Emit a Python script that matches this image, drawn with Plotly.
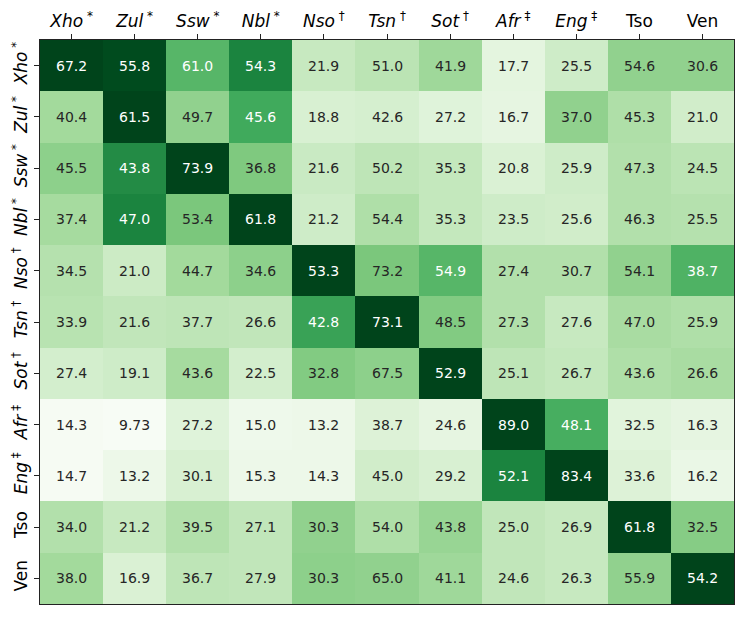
import plotly.graph_objects as go

langs = ["Xho", "Zul", "Ssw", "Nbl", "Nso", "Tsn", "Sot", "Afr", "Eng", "Tso", "Ven"]
marks = ["*", "*", "*", "*", "†", "†", "†", "‡", "‡", "", ""]

# cell values (row = Xho ... Ven, column = Xho ... Ven)
values = [
    [67.2, 55.8, 61.0, 54.3, 21.9, 51.0, 41.9, 17.7, 25.5, 54.6, 30.6],
    [40.4, 61.5, 49.7, 45.6, 18.8, 42.6, 27.2, 16.7, 37.0, 45.3, 21.0],
    [45.5, 43.8, 73.9, 36.8, 21.6, 50.2, 35.3, 20.8, 25.9, 47.3, 24.5],
    [37.4, 47.0, 53.4, 61.8, 21.2, 54.4, 35.3, 23.5, 25.6, 46.3, 25.5],
    [34.5, 21.0, 44.7, 34.6, 53.3, 73.2, 54.9, 27.4, 30.7, 54.1, 38.7],
    [33.9, 21.6, 37.7, 26.6, 42.8, 73.1, 48.5, 27.3, 27.6, 47.0, 25.9],
    [27.4, 19.1, 43.6, 22.5, 32.8, 67.5, 52.9, 25.1, 26.7, 43.6, 26.6],
    [14.3, 9.73, 27.2, 15.0, 13.2, 38.7, 24.6, 89.0, 48.1, 32.5, 16.3],
    [14.7, 13.2, 30.1, 15.3, 14.3, 45.0, 29.2, 52.1, 83.4, 33.6, 16.2],
    [34.0, 21.2, 39.5, 27.1, 30.3, 54.0, 43.8, 25.0, 26.9, 61.8, 32.5],
    [38.0, 16.9, 36.7, 27.9, 30.3, 65.0, 41.1, 24.6, 26.3, 55.9, 54.2],
]

# colour intensity of each cell (0 = lightest, 1 = darkest)
shade = [
    [1.00, 0.98, 0.57, 0.78, 0.25, 0.29, 0.38, 0.13, 0.22, 0.42, 0.42],
    [0.37, 1.00, 0.42, 0.63, 0.18, 0.19, 0.15, 0.12, 0.42, 0.33, 0.21],
    [0.43, 0.75, 1.00, 0.47, 0.24, 0.28, 0.26, 0.17, 0.22, 0.32, 0.29],
    [0.36, 0.78, 0.48, 1.00, 0.22, 0.33, 0.26, 0.22, 0.21, 0.32, 0.31],
    [0.31, 0.23, 0.37, 0.43, 1.00, 0.48, 0.57, 0.32, 0.32, 0.42, 0.59],
    [0.30, 0.27, 0.28, 0.27, 0.66, 1.00, 0.46, 0.32, 0.25, 0.35, 0.33],
    [0.20, 0.22, 0.36, 0.20, 0.46, 0.43, 1.00, 0.28, 0.26, 0.33, 0.35],
    [0.01, 0.00, 0.15, 0.06, 0.07, 0.16, 0.12, 1.00, 0.61, 0.14, 0.12],
    [0.01, 0.07, 0.18, 0.07, 0.07, 0.21, 0.18, 0.78, 1.00, 0.16, 0.09],
    [0.32, 0.25, 0.32, 0.27, 0.42, 0.33, 0.40, 0.27, 0.25, 1.00, 0.45],
    [0.37, 0.17, 0.28, 0.27, 0.43, 0.42, 0.38, 0.27, 0.25, 0.42, 1.00],
]

greens = ["#f7fcf5", "#e5f5e0", "#c7e9c0", "#a1d99b", "#74c476",
          "#41ab5d", "#238b45", "#006d2c", "#00441b"]
colorscale = [[i / (len(greens) - 1), c] for i, c in enumerate(greens)]


def label(name, mark):
    if mark:
        return "<i>%s</i><sup> %s</sup>" % (name, mark)
    return name


ticktext = [label(n, m) for n, m in zip(langs, marks)]

fig = go.Figure(go.Heatmap(
    z=shade, x=langs, y=langs, zmin=0, zmax=1,
    colorscale=colorscale, showscale=False, hoverinfo="skip",
))

for i, row in enumerate(values):
    for j, v in enumerate(row):
        txt = "%.2f" % v if v < 10 else "%.1f" % v
        fig.add_annotation(
            x=langs[j], y=langs[i], text=txt, showarrow=False,
            font=dict(size=14, color="white" if shade[i][j] > 0.55 else "#262626"),
        )

axis_common = dict(
    type="category", showline=True, mirror=True, linecolor="#222", linewidth=1.2,
    ticks="outside", ticklen=5, tickcolor="#222", showgrid=False, zeroline=False,
    tickvals=langs, ticktext=ticktext, tickfont=dict(size=17, color="black"),
    automargin=False,
)

# the page body adds an 8px offset, so the figure is a bit smaller than the window
fig.update_layout(
    width=740, height=610,
    margin=dict(l=32, r=14, t=32, b=14),
    paper_bgcolor="white", plot_bgcolor="white",
    font=dict(family="DejaVu Sans"),
    xaxis=dict(side="top", **axis_common),
    yaxis=dict(autorange="reversed", tickangle=-90, **axis_common),
)

fig.write_html("out.html")
